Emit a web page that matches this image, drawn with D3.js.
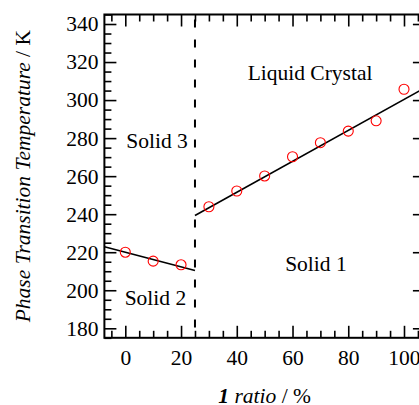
<!DOCTYPE html>
<html>
<head>
<meta charset="utf-8">
<script src="https://cdn.jsdelivr.net/npm/d3@7"></script>
<style>
  body { margin: 0; background: #fff; }
  text { font-family: "Liberation Serif", "Times New Roman", serif; }
</style>
</head>
<body>
<div id="chart-area"></div>
<script>
// measured points (red circles)
const ratio = [0, 10, 20, 30, 40, 50, 60, 70, 80, 90, 100];
const temperature = [220.0, 215.3, 213.4, 243.9, 252.2, 260.1, 270.2, 277.6, 283.7, 289.1, 305.7];

// linear fits, end points
const fitLowX = [-7.5, 25];
const fitLowY = [222.9, 210.4];
const fitHighX = [25, 107.5];
const fitHighY = [239.3, 306.4];

// phase boundary
const boundaryRatio = 25;

const xTicks = [0, 20, 40, 60, 80, 100];
const yTicks = [180, 200, 220, 240, 260, 280, 300, 320, 340];

const phaseNames = ['Liquid Crystal', 'Solid 3', 'Solid 2', 'Solid 1'];
const phaseRatio = [66.3, 11.4, 10.8, 68.4];
const phaseTemp = [310.5, 274.8, 192.3, 210.1];

const W = 419, H = 405;
const fontSize = '21.5px';

const svg = d3.select('#chart-area')
    .append('svg')
    .attr('width', W)
    .attr('height', H);

const x = d3.scaleLinear()
    .domain([-7.5, 107.5])
    .range([104.4, 424.9]);

const y = d3.scaleLinear()
    .domain([175, 345])
    .range([337.8, 14.5]);

const xMinor = d3.range(-5, 106, 5).filter(v => !xTicks.includes(v));
const yMinor = d3.range(175, 346, 5).filter(v => !yTicks.includes(v));

const plotLeft = x.range()[0], plotRight = x.range()[1];
const plotTop = y.range()[1], plotBottom = y.range()[0];

function addAxis(axis, tx, ty, labels) {
    const gAxis = svg.append('g')
        .attr('transform', 'translate(' + tx + ', ' + ty + ')')
        .call(axis);
    gAxis.select('.domain').remove();
    gAxis.selectAll('line').attr('stroke', '#000').attr('stroke-width', 1.6);
    gAxis.selectAll('text')
        .attr('font-size', fontSize)
        .attr('font-family', '"Liberation Serif", "Times New Roman", serif')
        .attr('fill', '#000');
    if (!labels) gAxis.selectAll('text').remove();
    return gAxis;
}

// minor ticks
addAxis(d3.axisBottom(x).tickValues(xMinor).tickSize(-7).tickSizeOuter(0), 0, plotBottom, false);
addAxis(d3.axisTop(x).tickValues(xMinor).tickSize(-7).tickSizeOuter(0), 0, plotTop, false);
addAxis(d3.axisLeft(y).tickValues(yMinor).tickSize(-7).tickSizeOuter(0), plotLeft, 0, false);

// major ticks
addAxis(d3.axisBottom(x).tickValues(xTicks).tickSize(-12).tickPadding(12).tickSizeOuter(0), 0, plotBottom, true);
addAxis(d3.axisTop(x).tickValues(xTicks).tickSize(-12).tickSizeOuter(0), 0, plotTop, false);
addAxis(d3.axisLeft(y).tickValues(yTicks).tickSize(-12).tickPadding(6).tickSizeOuter(0), plotLeft, 0, true);
addAxis(d3.axisRight(y).tickValues(yTicks).tickSize(-12).tickSizeOuter(0), plotRight, 0, false);

// frame
svg.append('rect')
    .attr('x', plotLeft)
    .attr('y', plotTop)
    .attr('width', plotRight - plotLeft)
    .attr('height', plotBottom - plotTop)
    .attr('fill', 'none')
    .attr('stroke', '#000')
    .attr('stroke-width', 2);

// phase boundary
svg.append('line')
    .attr('x1', x(boundaryRatio))
    .attr('x2', x(boundaryRatio))
    .attr('y1', plotTop)
    .attr('y2', plotBottom)
    .attr('stroke', '#000')
    .attr('stroke-width', 2)
    .attr('stroke-dasharray', '8,12')
    .attr('stroke-dashoffset', -5);

// fit lines
const line = d3.line().x(d => x(d[0])).y(d => y(d[1]));
[[fitLowX, fitLowY], [fitHighX, fitHighY]].forEach(f => {
    svg.append('path')
        .attr('d', line(d3.zip(f[0], f[1])))
        .attr('fill', 'none')
        .attr('stroke', '#000')
        .attr('stroke-width', 1.6);
});

// points
svg.selectAll('circle.pt')
    .data(d3.zip(ratio, temperature))
    .enter()
    .append('circle')
    .attr('class', 'pt')
    .attr('cx', d => x(d[0]))
    .attr('cy', d => y(d[1]))
    .attr('r', 5)
    .attr('fill', 'none')
    .attr('stroke', '#ff0000')
    .attr('stroke-width', 1.1);

// phase labels
phaseNames.forEach((name, i) => {
    svg.append('text')
        .attr('x', x(phaseRatio[i]))
        .attr('y', y(phaseTemp[i]))
        .attr('text-anchor', 'middle')
        .attr('font-size', fontSize)
        .text(name);
});

// axis titles
const xLabel = svg.append('text')
    .attr('x', (plotLeft + plotRight) / 2)
    .attr('y', 403)
    .attr('text-anchor', 'middle')
    .attr('font-size', fontSize);
xLabel.append('tspan').attr('font-weight', 'bold').attr('font-style', 'italic').text('1');
xLabel.append('tspan').attr('font-style', 'italic').text(' ratio');
xLabel.append('tspan').text(' / %');

const yLabel = svg.append('text')
    .attr('transform', 'translate(30, ' + ((plotTop + plotBottom) / 2) + ') rotate(-90)')
    .attr('text-anchor', 'middle')
    .attr('font-size', fontSize);
yLabel.append('tspan').attr('font-style', 'italic').text('Phase Transition Temperature');
yLabel.append('tspan').text(' / K');
</script>
</body>
</html>
